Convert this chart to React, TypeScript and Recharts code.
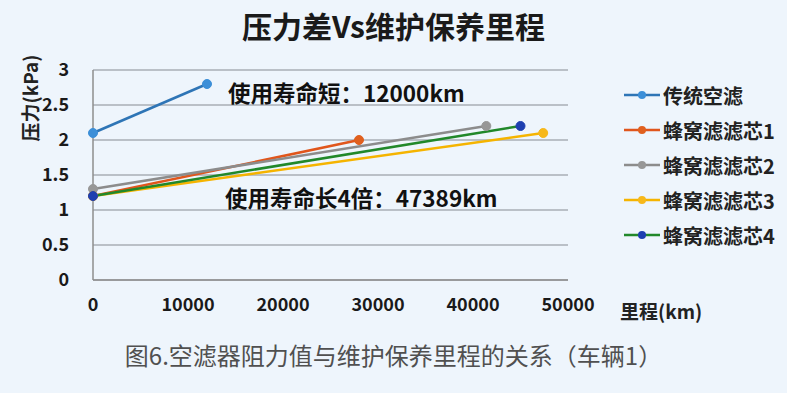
import React from "react";
import { LineChart, Line, XAxis, YAxis, CartesianGrid } from "recharts";

// mileage (km) and pressure drop (kPa), start and end of each filter
const seriesNames = ["传统空滤", "蜂窝滤滤芯1", "蜂窝滤滤芯2", "蜂窝滤滤芯3", "蜂窝滤滤芯4"];
const mileage = [
  [0, 12000],
  [0, 28000],
  [0, 41400],
  [0, 47389],
  [0, 45000],
];
const pressure = [
  [2.1, 2.8],
  [1.2, 2.0],
  [1.3, 2.2],
  [1.2, 2.1],
  [1.2, 2.2],
];
const lineColors = ["#2E75B6", "#E0561C", "#8C8C8C", "#F5B400", "#21882A"];
const dotColors = ["#3C8FD8", "#E0601E", "#979797", "#F7B81A", "#1E3FB0"];
const xTicks = [0, 10000, 20000, 30000, 40000, 50000];
const yTicks = [0, 0.5, 1, 1.5, 2, 2.5, 3];

const font = '"Noto Sans CJK SC", "Noto Sans", sans-serif';

const seriesData = seriesNames.map((name, i) =>
  mileage[i].map((km, j) => ({ km, kpa: pressure[i][j] }))
);

function LegendBox() {
  return (
    <div style={{ position: "absolute", left: 624, top: 81, display: "flex", flexDirection: "column", gap: 7 }}>
      {seriesNames.map((name, i) => (
        <div key={name} style={{ display: "flex", alignItems: "center", height: 28 }}>
          <svg width={36} height={12} style={{ marginRight: 3 }}>
            <line x1={0} y1={6} x2={36} y2={6} stroke={lineColors[i]} strokeWidth={2.5} />
            <circle cx={18} cy={6} r={4} fill={dotColors[i]} />
          </svg>
          <span style={{ fontSize: 20, fontWeight: 700, color: "#222", fontFamily: font }}>{name}</span>
        </div>
      ))}
    </div>
  );
}

export default function App() {
  const text: React.CSSProperties = {
    position: "absolute",
    fontFamily: font,
    whiteSpace: "nowrap",
    lineHeight: 1,
  };
  return (
    <div
      style={{
        position: "absolute",
        left: 0,
        top: 0,
        width: 787,
        height: 393,
        background: "#EEF5FC",
        overflow: "hidden",
      }}
    >
      <LineChart
        width={787}
        height={393}
        margin={{ top: 70, right: 219, left: 43, bottom: 83 }}
      >
        <CartesianGrid vertical={false} horizontal stroke="#A8AEB6" strokeWidth={1.3} />
        <XAxis
          type="number"
          dataKey="km"
          domain={[0, 50000]}
          ticks={xTicks}
          allowDuplicatedCategory={false}
          axisLine={{ stroke: "#8E8E8E", strokeWidth: 1.5 }}
          tickLine={false}
          tick={{ fill: "#1a1a1a", fontSize: 18, fontWeight: 700, fontFamily: font }}
          tickMargin={12}
          height={30}
        />
        <YAxis
          type="number"
          dataKey="kpa"
          domain={[0, 3]}
          ticks={yTicks}
          axisLine={{ stroke: "#8E8E8E", strokeWidth: 1.5 }}
          tickLine={false}
          tick={{ fill: "#1a1a1a", fontSize: 18, fontWeight: 700, fontFamily: font }}
          tickMargin={18}
          width={50}
        />
        {seriesData.map((d, i) => (
          <Line
            key={seriesNames[i]}
            data={d}
            dataKey="kpa"
            name={seriesNames[i]}
            stroke={lineColors[i]}
            strokeWidth={2.5}
            dot={{ r: 4.5, fill: dotColors[i], stroke: dotColors[i], strokeWidth: 1 }}
            isAnimationActive={false}
          />
        ))}
      </LineChart>

      <LegendBox />

      <div style={{ ...text, left: 0, width: 787, top: 10, textAlign: "center", fontSize: 30, fontWeight: 700, color: "#1a1a1a" }}>
        压力差Vs维护保养里程
      </div>
      <div style={{ ...text, left: 29, top: 98, transform: "translate(-50%, -50%) rotate(-90deg)", fontSize: 19, fontWeight: 700, color: "#222" }}>
        压力(kPa)
      </div>
      <div style={{ ...text, left: 620, top: 301, fontSize: 19, fontWeight: 700, color: "#222" }}>
        里程(km)
      </div>
      <div style={{ ...text, left: 228, top: 81, fontSize: 22.5, fontWeight: 700, color: "#111" }}>
        使用寿命短：12000km
      </div>
      <div style={{ ...text, left: 225, top: 186, fontSize: 22.5, fontWeight: 700, color: "#111" }}>
        使用寿命长4倍：47389km
      </div>
      <div style={{ ...text, left: 0, width: 787, top: 343, textAlign: "center", fontSize: 24, color: "#505050" }}>
        图6.空滤器阻力值与维护保养里程的关系（车辆1）
      </div>
    </div>
  );
}
